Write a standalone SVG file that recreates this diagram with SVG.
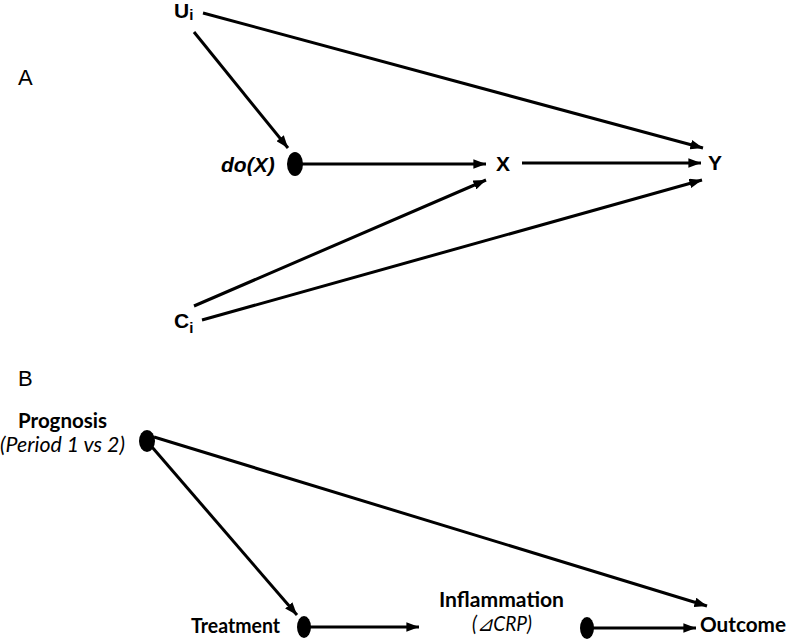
<svg xmlns="http://www.w3.org/2000/svg" width="787" height="640" viewBox="0 0 787 640">
<style>
.a{font-family:"Liberation Sans",Arial,sans-serif;font-weight:bold;font-size:21px;fill:#000}
.lab{font-family:"Liberation Sans",Arial,sans-serif;font-size:22px;fill:#000}
.b{font-family:Lato,"Open Sans",sans-serif;font-weight:bold;font-size:21px;fill:#000}
.bi{font-family:Lato,"Open Sans",sans-serif;font-style:italic;font-size:21px;fill:#000}
.e{stroke:#000;stroke-width:3;fill:none;marker-end:url(#ah)}
</style>
<defs>
<marker id="ah" viewBox="0 0 10 10" refX="10" refY="5" markerWidth="4.2" markerHeight="3.2" orient="auto" markerUnits="strokeWidth" preserveAspectRatio="none">
<path d="M0,0 L10,5 L0,10 z" fill="#000"/>
</marker>
</defs>
<rect width="787" height="640" fill="#fff"/>
<text class="lab" x="18" y="85">A</text>
<text class="lab" x="18" y="386">B</text>
<g id="Ui"><text class="a" x="174" y="18">U<tspan font-size="15" dy="2">i</tspan></text></g>
<g id="doX"><text class="a" x="221" y="172" font-style="italic">do(X)</text><ellipse cx="295" cy="164" rx="8" ry="12" fill="#000"/></g>
<g id="X"><text class="a" x="496" y="171">X</text></g>
<g id="Y"><text class="a" x="708" y="170">Y</text></g>
<g id="Ci"><text class="a" x="174" y="328">C<tspan font-size="15" dy="5">i</tspan></text></g>
<g id="Prognosis"><text class="b" x="18" y="428" textLength="89" lengthAdjust="spacingAndGlyphs">Prognosis</text><text class="bi" x="0" y="452" textLength="125" lengthAdjust="spacingAndGlyphs">(Period 1 vs 2)</text><ellipse cx="147" cy="441" rx="8" ry="11" fill="#000"/></g>
<g id="Treatment"><text class="b" x="191" y="633" textLength="89" lengthAdjust="spacingAndGlyphs">Treatment</text><ellipse cx="304" cy="627" rx="7" ry="11" fill="#000"/></g>
<g id="Inflammation"><text class="b" x="439" y="607" textLength="125" lengthAdjust="spacingAndGlyphs">Inflammation</text><text class="bi" x="472" y="631" textLength="60" lengthAdjust="spacingAndGlyphs">(⊿CRP)</text><ellipse cx="587" cy="628" rx="7" ry="11" fill="#000"/></g>
<g id="Outcome"><text class="b" x="700" y="632" textLength="86" lengthAdjust="spacingAndGlyphs">Outcome</text></g>
<g id="edges">
<line class="e" x1="203" y1="13" x2="703" y2="148"/>
<line class="e" x1="194" y1="32" x2="288" y2="148"/>
<line class="e" x1="300" y1="164" x2="486" y2="164"/>
<line class="e" x1="522" y1="163" x2="701" y2="163"/>
<line class="e" x1="194" y1="306" x2="486" y2="180"/>
<line class="e" x1="202" y1="320" x2="702" y2="180"/>
<line class="e" x1="152" y1="447" x2="297" y2="615"/>
<line class="e" x1="154" y1="437" x2="707" y2="606"/>
<line class="e" x1="308" y1="627" x2="419" y2="627"/>
<line class="e" x1="591" y1="628" x2="696" y2="628"/>
</g>
</svg>
